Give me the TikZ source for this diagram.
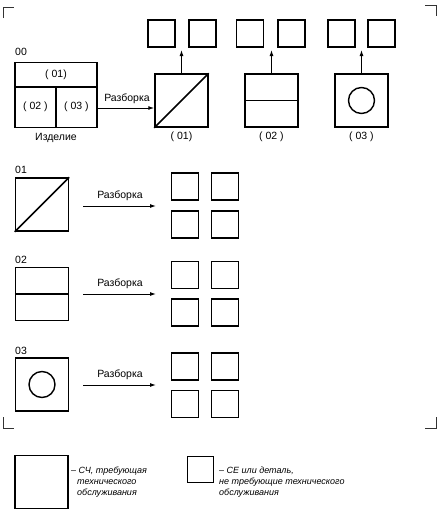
\documentclass[tikz,border=0pt]{standalone}
\usepackage{fontspec}
\setmainfont{Liberation Sans}
\usetikzlibrary{arrows.meta}
\begin{document}
\begin{tikzpicture}[x=1pt,y=-1pt,
  bigbox/.style={draw,line width=1.5pt,minimum size=53pt,inner sep=0pt},
  smallbox/.style={draw,line width=1.4pt,minimum size=27pt,inner sep=0pt},
  lbl/.style={font=\fontsize{10.5}{12}\selectfont,inner sep=0pt},
  arr/.style={line width=1pt,-{Latex[length=6pt,width=4pt]}},
  corner/.style={line width=0.9pt,draw=black!80},
  legend/.style={font=\fontsize{9}{10.7}\selectfont\itshape,align=left,inner sep=0pt,anchor=north west}]
\useasboundingbox (0,0) rectangle (440,512);
% corner marks
\draw[corner] (3,18) -- (3,7) -- (14,7);
\draw[corner] (425,5) -- (436,5) -- (436,16);
\draw[corner] (3,417) -- (3,428) -- (14,428);
\draw[corner] (425,428) -- (436,428) -- (436,417);
% product 00
\node[draw,line width=1.5pt,minimum width=82pt,minimum height=65pt,inner sep=0pt] (p00) at (56,95) {};
\draw[line width=1.5pt] (15,87) -- (97,87);
\draw[line width=1.5pt] (56,87) -- (56,127.5);
\node[lbl] (p01) at (56,75) {( 01)};
\node[lbl] (p02) at (35.5,107) {( 02 )};
\node[lbl] (p03) at (76.5,107) {( 03 )};
\node[lbl,anchor=south west] (l00) at (15,56) {00};
\node[lbl] (izd) at (56,138) {Изделие};
% top row
\node[bigbox] (b1) at (181.5,100.5) {};
\draw[line width=1.5pt] (b1.south west) -- (b1.north east);
\node[bigbox] (b2) at (271.5,100.5) {};
\draw[line width=1.5pt] (b2.west) -- (b2.east);
\node[bigbox] (b3) at (361.5,100.5) {};
\node[draw,circle,line width=1.4pt,minimum size=26pt,inner sep=0pt] (c3) at (b3.center) {};
\node[lbl] (lb1) at (181.5,137) {( 01)};
\node[lbl] (lb2) at (271.5,137) {( 02 )};
\node[lbl] (lb3) at (361.5,137) {( 03 )};
\draw[arr] (p00.east |- 0,108) coordinate (a0s) -- (b1.west |- 0,108) coordinate (a0e);
\node[lbl,anchor=south] (razb0) at (127,104) {Разборка};
% top small boxes
\node[smallbox] (s11) at (161.5,33.5) {};
\node[smallbox] (s12) at (202.5,33.5) {};
\node[smallbox] (s21) at (250,33.5) {};
\node[smallbox] (s22) at (291.5,33.5) {};
\node[smallbox] (s31) at (341.5,33.5) {};
\node[smallbox] (s32) at (381.5,33.5) {};
\coordinate (t1) at (181.5,50);
\coordinate (t2) at (271.5,50);
\coordinate (t3) at (361.5,50);
\draw[arr] (b1.north) -- (t1);
\draw[arr] (b2.north) -- (t2);
\draw[arr] (b3.north) -- (t3);
% row 01
\node[bigbox] (r1) at (42,204.5) {};
\draw[line width=1.5pt] (r1.south west) -- (r1.north east);
\node[lbl,anchor=south west] (l01) at (15,174) {01};
\coordinate (r1a) at (83,206);
\coordinate (r1b) at (156,206);
\draw[arr] (r1a) -- (r1b);
\node[lbl,anchor=south] (razb1) at (120,201) {Разборка};
\node[smallbox] (g111) at (185,186.5) {};
\node[smallbox] (g112) at (225,186.5) {};
\node[smallbox] (g121) at (185,224.5) {};
\node[smallbox] (g122) at (225,224.5) {};
% row 02
\node[bigbox] (r2) at (42,294) {};
\draw[line width=1.5pt] (r2.west) -- (r2.east);
\node[lbl,anchor=south west] (l02) at (15,264) {02};
\coordinate (r2a) at (83,294);
\coordinate (r2b) at (156,294);
\draw[arr] (r2a) -- (r2b);
\node[lbl,anchor=south] (razb2) at (120,289) {Разборка};
\node[smallbox] (g211) at (185,275) {};
\node[smallbox] (g212) at (225,275) {};
\node[smallbox] (g221) at (185,312.5) {};
\node[smallbox] (g222) at (225,312.5) {};
% row 03
\node[bigbox] (r3) at (42,384.5) {};
\node[draw,circle,line width=1.4pt,minimum size=26pt,inner sep=0pt] (c03) at (r3.center) {};
\node[lbl,anchor=south west] (l03) at (15,355) {03};
\coordinate (r3a) at (83,385);
\coordinate (r3b) at (156,385);
\draw[arr] (r3a) -- (r3b);
\node[lbl,anchor=south] (razb3) at (120,380) {Разборка};
\node[smallbox] (g311) at (185,366.5) {};
\node[smallbox] (g312) at (225,366.5) {};
\node[smallbox] (g321) at (185,404) {};
\node[smallbox] (g322) at (225,404) {};
% legend
\node[bigbox] (lg1) at (41.5,482) {};
\node[legend] (lt1) at (71,467) {– СЧ, требующая\\\hspace*{6pt}технического\\\hspace*{6pt}обслуживания};
\node[smallbox,minimum size=26pt] (lg2) at (200.5,469.5) {};
\node[legend] (lt2) at (219,467) {– СЕ или деталь,\\не требующие технического\\обслуживания};
\end{tikzpicture}
\end{document}
